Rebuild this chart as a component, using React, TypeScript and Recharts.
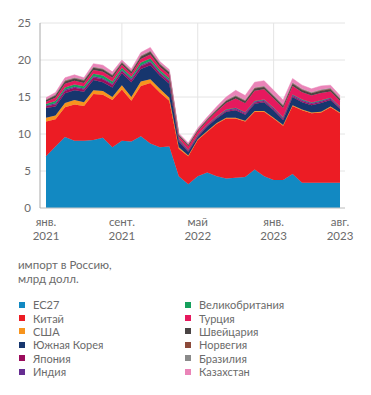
import React from "react";
import { AreaChart, Area, XAxis, YAxis, CartesianGrid } from "recharts";

const months = [
  "2021-01", "2021-02", "2021-03", "2021-04", "2021-05", "2021-06", "2021-07", "2021-08",
  "2021-09", "2021-10", "2021-11", "2021-12", "2022-01", "2022-02", "2022-03", "2022-04",
  "2022-05", "2022-06", "2022-07", "2022-08", "2022-09", "2022-10", "2022-11", "2022-12",
  "2023-01", "2023-02", "2023-03", "2023-04", "2023-05", "2023-06", "2023-07", "2023-08",
];

// млрд долл., по месяцам
const eu27 = [7.0, 8.3, 9.6, 9.1, 9.1, 9.2, 9.5, 8.2, 9.1, 9.0, 9.7, 8.7, 8.2, 8.3, 4.3, 3.2, 4.3, 4.8, 4.3, 4.0, 4.1, 4.2, 5.2, 4.3, 3.8, 3.8, 4.6, 3.4, 3.4, 3.4, 3.4, 3.4];
const china = [4.7, 3.7, 4.0, 4.9, 4.7, 6.2, 5.8, 6.4, 6.9, 5.5, 6.8, 8.2, 7.4, 6.2, 3.7, 3.8, 4.9, 5.5, 7.1, 8.1, 8.0, 7.5, 7.8, 8.7, 8.3, 7.3, 9.2, 9.8, 9.4, 9.5, 10.2, 9.4];
const usa = [0.5, 0.5, 0.6, 0.6, 0.5, 0.5, 0.5, 0.4, 0.6, 0.5, 0.6, 0.5, 0.5, 0.4, 0.2, 0.1, 0.1, 0.1, 0.1, 0.1, 0.1, 0.1, 0.1, 0.1, 0.1, 0.1, 0.1, 0.1, 0.1, 0.1, 0.1, 0.1];
const korea = [1.3, 1.2, 1.3, 1.3, 1.4, 1.4, 1.2, 1.3, 1.6, 2.0, 1.7, 1.9, 1.8, 1.9, 0.8, 0.5, 0.3, 0.6, 0.6, 0.8, 1.0, 0.8, 1.0, 1.2, 1.0, 0.7, 1.1, 1.0, 1.0, 1.2, 0.9, 0.5];
const japan = [0.25, 0.3, 0.35, 0.35, 0.3, 0.35, 0.4, 0.35, 0.3, 0.3, 0.35, 0.4, 0.3, 0.3, 0.15, 0.1, 0.1, 0.1, 0.1, 0.15, 0.15, 0.15, 0.15, 0.15, 0.15, 0.15, 0.15, 0.15, 0.15, 0.15, 0.15, 0.15];
const india = [0.1, 0.15, 0.15, 0.15, 0.15, 0.15, 0.15, 0.15, 0.15, 0.15, 0.15, 0.15, 0.15, 0.15, 0.1, 0.1, 0.1, 0.1, 0.1, 0.1, 0.15, 0.15, 0.15, 0.15, 0.15, 0.15, 0.15, 0.15, 0.15, 0.15, 0.1, 0.1];
const uk = [0.2, 0.3, 0.3, 0.3, 0.3, 0.35, 0.35, 0.3, 0.3, 0.3, 0.35, 0.35, 0.3, 0.3, 0.1, 0.05, 0.05, 0.05, 0.05, 0.05, 0.05, 0.05, 0.05, 0.05, 0.05, 0.05, 0.05, 0.05, 0.05, 0.05, 0.05, 0.05];
const turkey = [0.3, 0.45, 0.5, 0.5, 0.45, 0.5, 0.5, 0.5, 0.4, 0.4, 0.5, 0.55, 0.45, 0.45, 0.35, 0.5, 0.5, 0.55, 0.7, 0.9, 1.25, 1.2, 1.4, 1.4, 1.25, 1.25, 1.15, 1.0, 0.95, 1.0, 0.85, 0.75];
const switzerland = [0.2, 0.3, 0.3, 0.3, 0.3, 0.3, 0.3, 0.3, 0.25, 0.25, 0.3, 0.35, 0.3, 0.3, 0.15, 0.15, 0.15, 0.15, 0.2, 0.25, 0.3, 0.3, 0.3, 0.3, 0.3, 0.3, 0.3, 0.3, 0.3, 0.3, 0.3, 0.25];
const norway = [0.05, 0.05, 0.05, 0.05, 0.05, 0.05, 0.05, 0.05, 0.05, 0.05, 0.05, 0.05, 0.05, 0.05, 0.05, 0.05, 0.05, 0.05, 0.05, 0.05, 0.05, 0.05, 0.05, 0.05, 0.05, 0.05, 0.05, 0.05, 0.05, 0.05, 0.05, 0.05];
const brazil = [0.05, 0.1, 0.1, 0.1, 0.1, 0.1, 0.1, 0.1, 0.1, 0.1, 0.1, 0.1, 0.1, 0.1, 0.05, 0.05, 0.05, 0.05, 0.05, 0.1, 0.1, 0.1, 0.1, 0.1, 0.1, 0.1, 0.1, 0.1, 0.1, 0.1, 0.1, 0.1];
const kazakhstan = [0.25, 0.25, 0.35, 0.35, 0.25, 0.4, 0.45, 0.35, 0.25, 0.25, 0.4, 0.45, 0.25, 0.25, 0.15, 0.2, 0.2, 0.25, 0.35, 0.4, 0.65, 0.6, 0.7, 0.7, 0.65, 0.65, 0.55, 0.5, 0.45, 0.5, 0.4, 0.35];

const yTicks = [0, 5, 10, 15, 20, 25];
const xTickLabels: Record<string, [string, string]> = {
  "2021-01": ["янв.", "2021"],
  "2021-09": ["сент.", "2021"],
  "2022-05": ["май", "2022"],
  "2023-01": ["янв.", "2023"],
  "2023-08": ["авг.", "2023"],
};
const gridMonths = ["2021-09", "2022-05", "2023-01"];

const series = [
  { key: "eu27", name: "ЕС27", color: "#1289c2", values: eu27 },
  { key: "china", name: "Китай", color: "#ec1c24", values: china },
  { key: "usa", name: "США", color: "#f7941d", values: usa },
  { key: "korea", name: "Южная Корея", color: "#17366e", values: korea },
  { key: "japan", name: "Япония", color: "#9b0c5c", values: japan },
  { key: "india", name: "Индия", color: "#662d91", values: india },
  { key: "uk", name: "Великобритания", color: "#16a05c", values: uk },
  { key: "turkey", name: "Турция", color: "#e6195e", values: turkey },
  { key: "switzerland", name: "Швейцария", color: "#4a4444", values: switzerland },
  { key: "norway", name: "Норвегия", color: "#8c4a3a", values: norway },
  { key: "brazil", name: "Бразилия", color: "#8a8a8a", values: brazil },
  { key: "kazakhstan", name: "Казахстан", color: "#ea84b8", values: kazakhstan },
];

const data = months.map((m, i) => {
  const row: Record<string, string | number> = { month: m };
  series.forEach((s) => {
    row[s.key] = s.values[i];
  });
  return row;
});

const FONT = "Lato, 'Open Sans', sans-serif";
const TEXT = "#6b6b6b";

const MonthTick = (props: any) => {
  const { x, y, payload } = props;
  const lbl = xTickLabels[payload.value];
  if (!lbl) return null;
  return (
    <g>
      <text x={x} y={y + 10} textAnchor="middle" fill={TEXT} fontSize={11.5} fontFamily={FONT}>
        {lbl[0]}
      </text>
      <text x={x} y={y + 24} textAnchor="middle" fill={TEXT} fontSize={11.5} fontFamily={FONT}>
        {lbl[1]}
      </text>
    </g>
  );
};

export default function App() {
  const left = series.slice(0, 6);
  const right = series.slice(6);
  return (
    <div style={{ width: 355, fontFamily: FONT, color: TEXT }}>
      <AreaChart
        width={355}
        height={240}
        data={data}
        margin={{ top: 15, right: 18, bottom: 0, left: 0 }}
      >
        <CartesianGrid vertical={false} stroke="#e4e4e4" />
        <CartesianGrid horizontal={false} verticalValues={gridMonths} stroke="#e4e4e4" />
        <XAxis
          dataKey="month"
          ticks={Object.keys(xTickLabels)}
          interval={0}
          tick={<MonthTick />}
          tickLine={false}
          axisLine={{ stroke: "#c8c8c8" }}
          height={40}
          padding={{ left: 6, right: 5 }}
        />
        <YAxis
          domain={[0, 25]}
          ticks={yTicks}
          width={32}
          tick={{ fill: TEXT, fontSize: 11.5, fontFamily: FONT }}
          tickLine={false}
          axisLine={{ stroke: "#a8a8a8" }}
          tickMargin={3}
        />
        <YAxis
          yAxisId="edge"
          orientation="right"
          domain={[0, 25]}
          width={0}
          tick={false}
          tickLine={false}
          axisLine={{ stroke: "#e4e4e4" }}
        />
        {series.map((s) => (
          <Area
            key={s.key}
            dataKey={s.key}
            name={s.name}
            stackId="1"
            type="linear"
            fill={s.color}
            fillOpacity={1}
            stroke={s.color}
            strokeWidth={0.5}
            isAnimationActive={false}
          />
        ))}
      </AreaChart>
      <div style={{ paddingLeft: 10, marginTop: 10, fontSize: 11.5, lineHeight: "14px" }}>
        импорт в Россию,
        <br />
        млрд долл.
      </div>
      <div style={{ display: "flex", paddingLeft: 11, marginTop: 12, fontSize: 11, lineHeight: "13px" }}>
        {[left, right].map((col, ci) => (
          <div key={ci} style={{ width: 166 }}>
            {col.map((s) => (
              <div key={s.key} style={{ display: "flex", alignItems: "center", height: 13.4 }}>
                <span
                  style={{
                    display: "inline-block",
                    width: 6,
                    height: 6,
                    background: s.color,
                    marginRight: 8,
                  }}
                />
                <span>{s.name}</span>
              </div>
            ))}
          </div>
        ))}
      </div>
    </div>
  );
}
